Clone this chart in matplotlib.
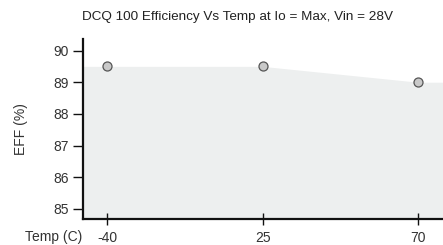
import matplotlib
matplotlib.use("Agg")
import matplotlib.pyplot as plt

temps = ["-40", "25", "70"]
eff = [89.5, 89.5, 89.0]
yticks = [85, 86, 87, 88, 89, 90]

plt.rcParams['font.family'] = ['Liberation Sans', 'DejaVu Sans']

fig = plt.figure(figsize=(4.43, 2.45), dpi=100)
ax = fig.add_axes([0.1874, 0.106, 0.8126, 0.733])

x = list(range(len(temps)))
xl, xr = -0.155, 2.16
ax.set_xlim(xl, xr)
ax.set_ylim(84.68, 90.35)

fx = [xl] + x + [xr]
fy = [eff[0]] + eff + [eff[-1]]
ax.fill_between(fx, 84.68, fy, color='#edefef', lw=0, zorder=1)
ax.plot(x, eff, linestyle='none', marker='o', markersize=6.5,
        markerfacecolor='#c9c9c9', markeredgecolor='#555555', markeredgewidth=0.9, zorder=3)

ax.set_xticks(x)
ax.set_xticklabels(temps)
ax.set_yticks(yticks)
ax.set_yticklabels([str(v) for v in yticks])

for s in ['top', 'right']:
    ax.spines[s].set_visible(False)
for s in ['left', 'bottom']:
    ax.spines[s].set_linewidth(1.6)
    ax.spines[s].set_color('#111111')

ax.tick_params(axis='y', direction='out', length=7.5, width=1.0, labelsize=10, pad=3, colors='#111111', labelcolor='#333333')
ax.tick_params(axis='x', direction='inout', length=9, width=1.0, labelsize=10, pad=4, colors='#111111', labelcolor='#333333')

ax.set_ylabel('EFF (%)', fontsize=10, color='#333333')
ax.yaxis.set_label_coords(-0.153, 0.5)
ax.text(-0.003, -0.1, 'Temp (C)', transform=ax.transAxes, ha='right', va='center',
        fontsize=10, color='#333333')

fig.text(0.537, 0.93, 'DCQ 100 Efficiency Vs Temp at Io = Max, Vin = 28V',
         ha='center', va='center', fontsize=9.7, color='#222222')

fig.savefig('out.png', dpi=100)
